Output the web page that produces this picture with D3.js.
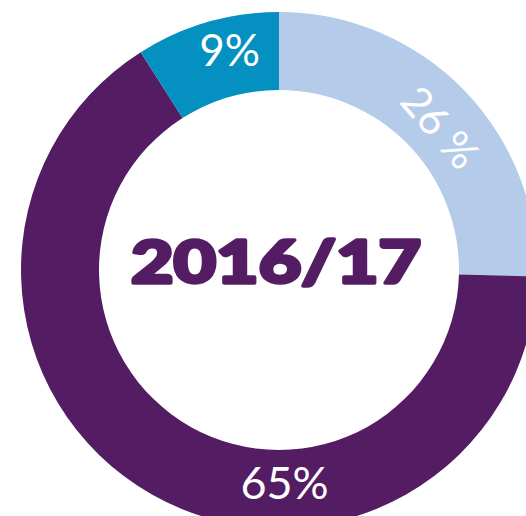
<!DOCTYPE html>
<html lang="en">
<head>
    <meta charset="UTF-8">
    <title>2016/17</title>
    <script src="https://cdn.jsdelivr.net/npm/d3@7"></script>
</head>
<style>
    body {
        margin: 0;
        background: white;
    }
    #chart {
        width: 526px;
        height: 516px;
        overflow: hidden;
    }
    .pct {
        font-family: Lato, "Open Sans", sans-serif;
        font-weight: 400;
        fill: white;
    }
    .year {
        font-family: Lato, "DejaVu Sans", sans-serif;
        font-weight: 900;
        fill: #541c62;
        stroke: #541c62;
        stroke-width: 3.5;
        stroke-linejoin: round;
    }
</style>
<body>
    <div id="chart"></div>
</body>
<script>
    // slices, clockwise from 12 o'clock
    const categories = ["a", "b", "c"]
    const shares = [25.4, 65.6, 9]      // arc sizes as drawn
    const labels = ["26 %", "65%", "9%"]
    const colors = ["#b5cbea", "#541c62", "#0490c0"]
    const title = "2016/17"

    const W = 526, H = 516
    const cx = 279, cy = 270
    const rInner = 180, rOuter = 258

    const svg = d3.select("#chart")
        .append("svg")
          .attr("width", W)
          .attr("height", H)
    const g = svg.append("g")
        .attr("transform", `translate(${cx}, ${cy})`)

    const pie = d3.pie().sort(null).value(d => d)
    const arcs = pie(shares)
    const arc = d3.arc().innerRadius(rInner).outerRadius(rOuter)

    const color = d3.scaleOrdinal().domain(categories).range(colors)

    g.selectAll("path")
        .data(arcs)
        .enter()
        .append("path")
          .attr("d", arc)
          .attr("fill", (d, i) => color(categories[i]))

    // label placement: angle (deg from top), radius, rotation, size
    const polar = (deg, r) => {
        const a = deg * Math.PI / 180
        return [r * Math.sin(a), -r * Math.cos(a)]
    }
    const labelPos = [
        {deg: 48.5, r: 216, rot: 49, size: 42},
        {deg: 178.5, r: 212, rot: 0, size: 45},
        {deg: -12.6, r: 226, rot: 0, size: 44}
    ]
    g.selectAll("text.pct")
        .data(labels)
        .enter()
        .append("text")
          .attr("class", "pct")
          .attr("text-anchor", "middle")
          .attr("dominant-baseline", "central")
          .attr("font-size", (d, i) => labelPos[i].size)
          .attr("transform", (d, i) => {
              const [x, y] = polar(labelPos[i].deg, labelPos[i].r)
              return `translate(${x}, ${y}) rotate(${labelPos[i].rot})`
          })
          .text(d => d)

    g.append("text")
        .attr("class", "year")
        .attr("x", -3)
        .attr("y", 13)
        .attr("text-anchor", "middle")
        .attr("font-size", 59)
        .attr("textLength", 290)
        .attr("lengthAdjust", "spacingAndGlyphs")
        .text(title)
</script>
</html>
